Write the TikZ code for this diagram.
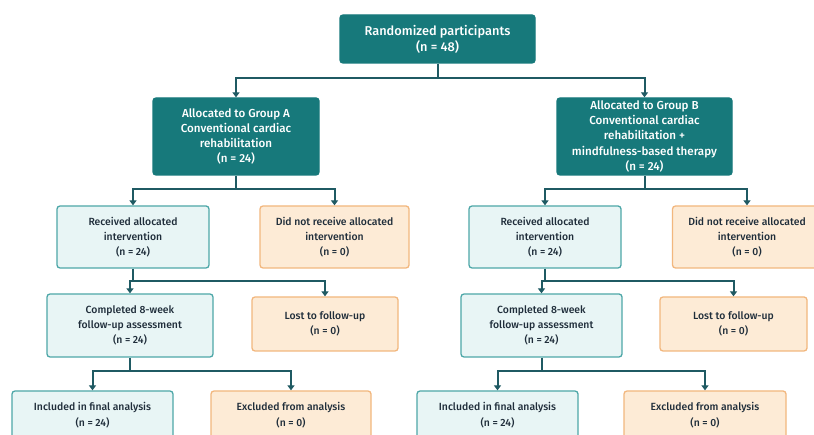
\documentclass[tikz,border=0pt]{standalone}
\usepackage{fontspec}
\setmainfont{Fira Sans}[Numbers=Lining]
\newfontfamily\medfont{Fira Sans Medium}[Numbers=Lining]
\usetikzlibrary{arrows.meta}

\definecolor{tealdark}{HTML}{17797B}
\definecolor{tealpale}{HTML}{E8F5F5}
\definecolor{tealline}{HTML}{4DA7A8}
\definecolor{orangepale}{HTML}{FDEBD6}
\definecolor{orangeline}{HTML}{F2B77E}
\definecolor{linkteal}{HTML}{1F5A63}
\definecolor{inkdark}{HTML}{1F2D3A}

\begin{document}
\begin{tikzpicture}[x=1pt,y=-1pt,
    box/.style={rounded corners=3pt, line width=1.3pt, align=center,
        inner sep=0pt, font=\medfont\fontsize{10.4}{15.3}\selectfont},
    main/.style={box, fill=tealdark, draw=tealdark, text=white,
        font=\medfont\fontsize{11.6}{15.3}\selectfont},
    kept/.style={box, fill=tealpale, draw=tealline, text=inkdark},
    lost/.style={box, fill=orangepale, draw=orangeline, text=inkdark},
    link/.style={draw=linkteal, line width=2pt},
    flow/.style={link, -{Triangle[width=7pt,length=5pt]}}]
    \useasboundingbox (0,0) rectangle (814,435);
    \clip (0,0) rectangle (814,435);
    \fill[white] (0,0) rectangle (814,435);

    % enrolment and allocation
    \node[main, minimum width=195pt, minimum height=48pt,
        font=\medfont\fontsize{12.8}{16}\selectfont] (rand) at (437.5,39)
        {Randomized participants\\(n = 48)};
    \node[main, minimum width=166pt, minimum height=77pt] (grpA) at (236,136.5)
        {Allocated to Group A\\Conventional cardiac\\rehabilitation\\(n = 24)};
    \node[main, minimum width=175pt, minimum height=77pt] (grpB) at (644.5,136.5)
        {Allocated to Group B\\Conventional cardiac\\rehabilitation +\\mindfulness-based therapy\\(n = 24)};

    % group A
    \node[kept, minimum width=152pt, minimum height=62pt] (recvA) at (133,237)
        {Received allocated\\intervention\\(n = 24)};
    \node[lost, minimum width=149pt, minimum height=62pt] (norecvA) at (334.5,237)
        {Did not receive allocated\\intervention\\(n = 0)};
    \node[kept, minimum width=166pt, minimum height=63pt] (compA) at (130,325.5)
        {Completed 8-week\\follow-up assessment\\(n = 24)};
    \node[lost, minimum width=146pt, minimum height=54pt] (lostA) at (325,324)
        {Lost to follow-up\\(n = 0)};
    \node[kept, minimum width=161pt, minimum height=48pt] (inclA) at (92.5,415)
        {Included in final analysis\\(n = 24)};
    \node[lost, minimum width=160pt, minimum height=48pt] (exclA) at (291,415)
        {Excluded from analysis\\(n = 0)};

    % group B
    \node[kept, minimum width=152pt, minimum height=62pt] (recvB) at (545,237)
        {Received allocated\\intervention\\(n = 24)};
    \node[lost, minimum width=149pt, minimum height=62pt] (norecvB) at (747,237)
        {Did not receive allocated\\intervention\\(n = 0)};
    \node[kept, minimum width=161pt, minimum height=63pt] (compB) at (541.5,325.5)
        {Completed 8-week\\follow-up assessment\\(n = 24)};
    \node[lost, minimum width=147pt, minimum height=54pt] (lostB) at (733.5,324)
        {Lost to follow-up\\(n = 0)};
    \node[kept, minimum width=161pt, minimum height=48pt] (inclB) at (497.5,415)
        {Included in final analysis\\(n = 24)};
    \node[lost, minimum width=162pt, minimum height=48pt] (exclB) at (705,415)
        {Excluded from analysis\\(n = 0)};

    % connectors
    \draw[link] (rand.south) -- ++(0,14) coordinate (jrand);
    \draw[flow] (jrand) -| (grpA.north);
    \draw[flow] (jrand) -| (grpB.north);

    \foreach \g in {A,B} {
        \draw[link] (grp\g.south) -- ++(0,13) coordinate (jgrp\g);
        \draw[flow] (jgrp\g) -| (recv\g.north);
        \draw[flow] (jgrp\g) -| (norecv\g.north);
        \draw[link] (recv\g.south) -- ++(0,12) coordinate (jrecv\g);
        \draw[flow] (jrecv\g) -| (comp\g.north);
        \draw[flow] (jrecv\g) -| (lost\g.north);
        \draw[link] (comp\g.south) -- ++(0,13) coordinate (jcomp\g);
        \draw[flow] (jcomp\g) -| (incl\g.north);
        \draw[flow] (jcomp\g) -| (excl\g.north);
    }
\end{tikzpicture}
\end{document}
